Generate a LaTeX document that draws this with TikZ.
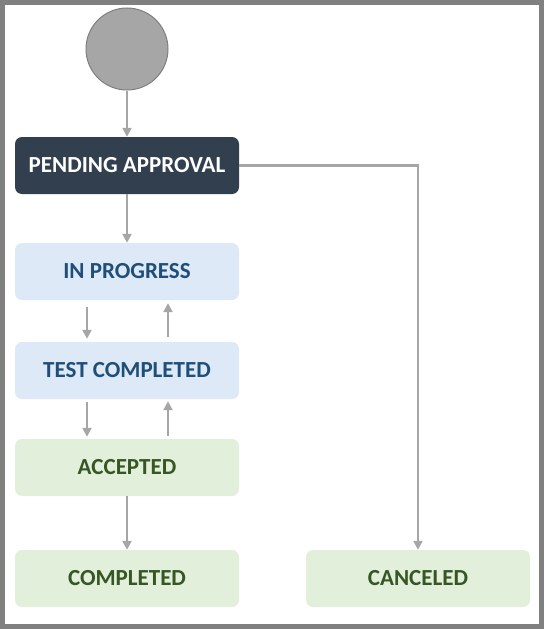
\documentclass[tikz,border=0pt]{standalone}
\usepackage{fontspec}
\setmainfont{Carlito}
\usetikzlibrary{arrows.meta}
\definecolor{frame}{HTML}{808080}
\definecolor{startfill}{HTML}{A6A6A6}
\definecolor{startline}{HTML}{7F7F7F}
\definecolor{darkbox}{HTML}{323F4F}
\definecolor{bluebox}{HTML}{DDE9F6}
\definecolor{bluetext}{HTML}{1F4E79}
\definecolor{greenbox}{HTML}{E2EFDA}
\definecolor{greentext}{HTML}{375623}
\definecolor{conn}{HTML}{A6A6A6}
\tikzset{
  statebox/.style={rounded corners=7pt, minimum width=224pt, minimum height=57pt, inner sep=0pt, font=\fontsize{23}{27}\selectfont\bfseries},
  darkstate/.style={statebox, fill=darkbox, text=white},
  bluestate/.style={statebox, fill=bluebox, text=bluetext},
  greenstate/.style={statebox, fill=greenbox, text=greentext},
  conn/.style={draw=conn, line width=2.2pt, -{Triangle[length=9pt,width=9pt]}},
}
\begin{document}
\begin{tikzpicture}[x=1pt,y=-1pt]
\useasboundingbox (0,0) rectangle (544,629);
\draw[frame, line width=5pt] (2.5,2.5) rectangle (541.5,626.5);
\node[circle, draw=startline, fill=startfill, line width=1pt, minimum size=82pt, inner sep=0pt] (start) at (127,49) {};
\node[darkstate] (pending) at (127,165.5) {PENDING APPROVAL};
\node[bluestate] (inprog) at (127,271.5) {IN PROGRESS};
\node[bluestate] (test) at (127,370.5) {TEST COMPLETED};
\node[greenstate] (accepted) at (127,467.5) {ACCEPTED};
\node[greenstate] (completed) at (127,578.5) {COMPLETED};
\node[greenstate] (canceled) at (418,578.5) {CANCELED};
\draw[conn] (start) -- (pending);
\draw[conn] (pending) -- (inprog);
\draw[conn] ([xshift=-40pt,yshift=-7pt]inprog.south) -- ([xshift=-40pt,yshift=3pt]test.north);
\draw[conn] ([xshift=41pt,yshift=5pt]test.north) -- ([xshift=41pt,yshift=-3pt]inprog.south);
\draw[conn] ([xshift=-40pt,yshift=-3pt]test.south) -- ([xshift=-40pt,yshift=2pt]accepted.north);
\draw[conn] ([xshift=41pt,yshift=3pt]accepted.north) -- ([xshift=41pt,yshift=-2pt]test.south);
\draw[conn] (accepted) -- (completed);
\draw[conn] (pending.east) -| (canceled.north);
\end{tikzpicture}
\end{document}
